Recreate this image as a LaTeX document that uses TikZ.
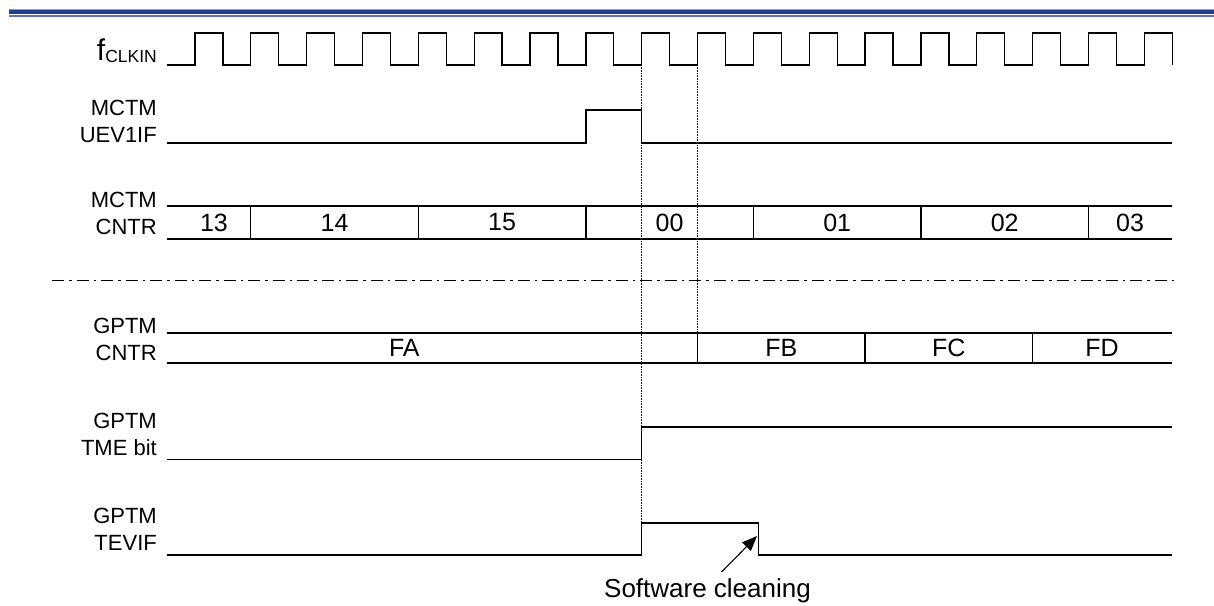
\documentclass[tikz,border=0pt]{standalone}
\usepackage{fontspec}
\setmainfont{Liberation Sans}
\usetikzlibrary{arrows.meta}
\definecolor{hdrdark}{HTML}{203F8F}
\definecolor{hdrlight}{HTML}{8A9BC8}
\definecolor{hdrmid}{HTML}{5A74B5}
\tikzset{
  sig/.style={line width=1.3pt, line join=miter},
  guide/.style={line width=0.6pt, densely dotted},
  sep/.style={line width=1pt, dash pattern=on 12pt off 5pt on 2.5pt off 5pt},
  lbl/.style={anchor=base east, inner sep=0pt, font=\fontsize{22}{26}\selectfont},
  val/.style={anchor=center, inner sep=0pt, font=\fontsize{25}{30}\selectfont},
  note/.style={anchor=base, inner sep=0pt, font=\fontsize{26}{30}\selectfont},
}
\begin{document}
\begin{tikzpicture}[x=1pt,y=-1pt]
\useasboundingbox (0,0) rectangle (1214,605);
% header rules
\fill[hdrdark] (9,10) rectangle (1214,14);
\draw[hdrlight, line width=0.8pt] (9,9.6) -- (1214,9.6);
\draw[hdrmid, line width=1.3pt] (9,16) -- (1214,16);

\def\P{55.84}
% labels
\node[lbl] (lclk) at (157,60) {\fontsize{30}{34}\selectfont f\raisebox{-2pt}{\fontsize{17.5}{20}\selectfont CLKIN}};
\node[lbl] (luev1) at (157,115.7) {MCTM};
\node[lbl] (luev2) at (157,142.3) {UEV1IF};
\node[lbl] (lmc1) at (157,207.8) {MCTM};
\node[lbl] (lmc2) at (157,234) {CNTR};
\node[lbl] (lgc1) at (157,333.3) {GPTM};
\node[lbl] (lgc2) at (157,360) {CNTR};
\node[lbl] (ltme1) at (157,428.3) {GPTM};
\node[lbl] (ltme2) at (157,455) {TME bit};
\node[lbl] (ltev1) at (157,523.3) {GPTM};
\node[lbl] (ltev2) at (157,550) {TEVIF};

% guide (dotted) lines
\coordinate (gA1) at ({195+8*\P},65);
\coordinate (gA2) at ({195+8*\P},523);
\coordinate (gB1) at ({195+9*\P},65);
\coordinate (gB2) at ({195+9*\P},333);
\draw[guide] (gA1) -- (gA2);
\draw[guide] (gB1) -- (gB2);

% separator
\coordinate (sepL) at (52,280);
\coordinate (sepR) at (1178,280);
\draw[sep] (sepL) -- (sepR);

% clock
\draw[sig] (167,65) \foreach \k in {0,...,17} { -- ({195+\P*\k},65) -- ({195+\P*\k},33) -- ({222.92+\P*\k},33) -- ({222.92+\P*\k},65) };

% UEV1IF
\draw[sig] (167,143) -- ({195+7*\P},143) -- ({195+7*\P},110) -- ({195+8*\P},110) -- ({195+8*\P},143) -- (1172,143);

% MCTM CNTR
\draw[sig] (167,206) -- (1172,206);
\draw[sig] (167,239) -- (1172,239);
\foreach \k in {1,4,7,10,13,16} { \draw[sig] ({195+\P*\k},206) -- ({195+\P*\k},239); }
\node[val] (m13) at (214,222.5) {13};
\node[val] (m14) at ({195+2.5*\P},222.5) {14};
\node[val] (m15) at ({195+5.5*\P},222.5) {15};
\node[val] (m00) at ({195+8.5*\P},222.5) {00};
\node[val] (m01) at ({195+11.5*\P},222.5) {01};
\node[val] (m02) at ({195+14.5*\P},222.5) {02};
\node[val] (m03) at (1130,222.5) {03};

% GPTM CNTR
\draw[sig] (167,333) -- (1172,333);
\draw[sig] (167,363) -- (1172,363);
\foreach \k in {9,12,15} { \draw[sig] ({195+\P*\k},333) -- ({195+\P*\k},363); }
\node[val] (gFA) at ({(167+195+8*\P)/2},348) {FA};
\node[val] (gFB) at ({195+10.5*\P},348) {FB};
\node[val] (gFC) at ({195+13.5*\P},348) {FC};
\node[val] (gFD) at (1102,348) {FD};

% TME bit
\draw[sig] (167,459.5) -- ({195+8*\P},459.5) -- ({195+8*\P},427) -- (1172,427);

% TEVIF
\draw[sig] (167,555) -- ({195+8*\P},555) -- ({195+8*\P},523) -- (758.5,523) -- (758.5,555) -- (1172,555);

% annotation
\node[note] (sw) at (707.5,597) {Software cleaning};
\coordinate (arT) at (721.5,572);
\coordinate (arH) at (757,536);
\draw[line width=1.1pt, -{Triangle[length=15pt,width=12pt]}] (arT) -- (arH);
\end{tikzpicture}
\end{document}
